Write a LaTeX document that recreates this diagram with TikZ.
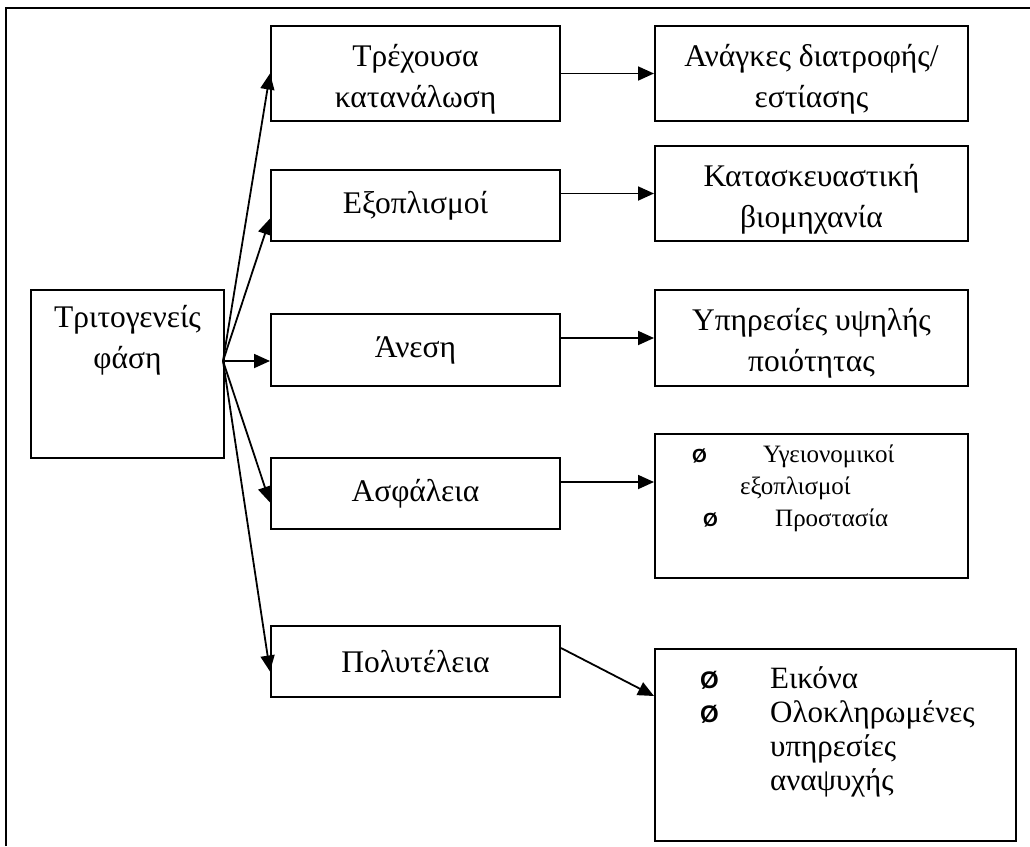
\documentclass[tikz,border=0pt]{standalone}
\usepackage{fontspec}
\setmainfont{Liberation Serif}
\setsansfont{Liberation Sans}
\usetikzlibrary{arrows.meta, positioning, calc}

\newcommand{\bul}[1]{{\fontsize{#1}{#1}\selectfont\sffamily\bfseries Ø}}
\newcommand{\pad}{\rule{0pt}{33pt}}

\begin{document}
\begin{tikzpicture}[
  x=1pt, y=-1pt,
  box/.style={rectangle, draw=black, line width=2pt, anchor=north west,
              inner sep=0pt, align=center, font=\fontsize{31.5}{41}\selectfont},
  txt/.style={inner sep=0pt, align=center, font=\fontsize{31.5}{41}\selectfont},
  list/.style={anchor=north west, inner sep=0pt, align=left},
  arrow/.style={-{Triangle[length=16pt, width=14pt]}, line width=1.8pt},
  frame/.style={line width=2pt},
]
  \useasboundingbox (0,0) rectangle (1030,846);
  % frame
  \draw[frame] (6,846) -- (6,8) -- (1030,8);

  % source
  \node[box, minimum width=193pt, minimum height=168pt] (tf) at (30,289) {};
  \node[txt, below=16pt of tf.north] (tftext) {Τριτογενείς\\φάση};

  % middle column
  \node[box, minimum width=289pt, minimum height=95pt] (t1) at (270,25) {\pad Τρέχουσα\\κατανάλωση};
  \node[box, minimum width=289pt, minimum height=71pt] (t2) at (270,169) {Εξοπλισμοί};
  \node[box, minimum width=289pt, minimum height=72pt] (t3) at (270,313) {Άνεση};
  \node[box, minimum width=289pt, minimum height=71pt] (t4) at (270,457) {Ασφάλεια};
  \node[box, minimum width=289pt, minimum height=71pt] (t5) at (270,625) {Πολυτέλεια};

  % right column
  \node[box, minimum width=313pt, minimum height=95pt] (a1) at (654,25) {\pad Ανάγκες διατροφής/\\εστίασης};
  \node[box, minimum width=313pt, minimum height=95pt] (a2) at (654,145) {\pad Κατασκευαστική\\βιομηχανία};
  \node[box, minimum width=313pt, minimum height=96pt] (a3) at (654,289) {\pad Υπηρεσίες υψηλής\\ποιότητας};
  \node[box, minimum width=313pt, minimum height=144pt] (a4) at (654,433) {};
  \node[list, font=\fontsize{25}{32}\selectfont] (a4text) at (692,445)
    {\makebox[71pt][l]{\bul{19}}Υγειονομικοί\\
     \hspace*{48pt}εξοπλισμοί\\
     \hspace*{11pt}\makebox[72pt][l]{\bul{19}}Προστασία};
  \node[box, minimum width=361pt, minimum height=192pt] (a5) at (654,648) {};
  \node[list, font=\fontsize{31}{34}\selectfont] (a5text) at (700,666)
    {\makebox[70pt][l]{\bul{24}}Εικόνα\\
     \makebox[70pt][l]{\bul{24}}Ολοκληρωμένες\\
     \hspace*{70pt}υπηρεσίες\\
     \hspace*{70pt}αναψυχής};

  % arrows
  \coordinate (src) at (223,361);
  \draw[arrow] (src) -- (t1.west);
  \draw[arrow] (src) -- ($(t2.west)+(0,13)$);
  \draw[arrow] (src) -- (t3.west |- src);
  \draw[arrow] (src) -- ($(t4.west)+(0,9)$);
  \draw[arrow] (src) -- ($(t5.west)+(0,10)$);

  \draw[arrow] (t1.east) -- (a1.west);
  \draw[arrow] (t2.east |- a2.west) -- (a2.west);
  \draw[arrow] (t3.east |- a3.west) -- (a3.west);
  \coordinate (a4in) at ($(a4.west)+(0,-24)$);
  \draw[arrow] (t4.east |- a4in) -- (a4in);
  \coordinate (t5out) at ($(t5.north east)+(0,23)$);
  \coordinate (a5in) at ($(a5.north west)+(0,48)$);
  \draw[arrow] (t5out) -- (a5in);
\end{tikzpicture}
\end{document}
